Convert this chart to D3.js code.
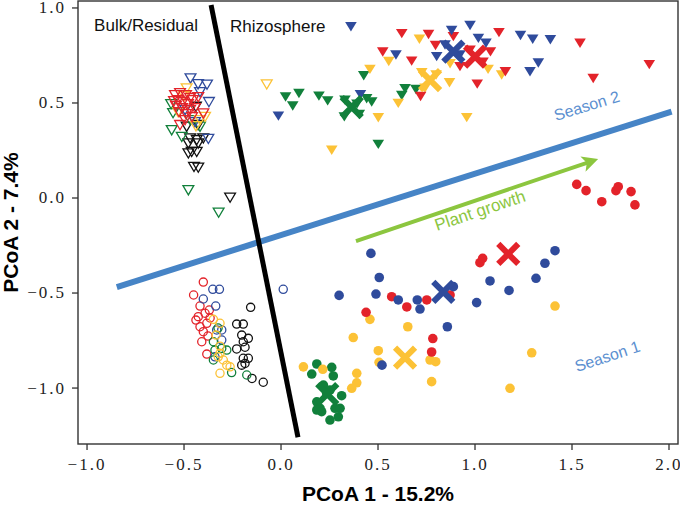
<!DOCTYPE html>
<html>
<head>
<meta charset="utf-8">
<script src="https://cdn.jsdelivr.net/npm/d3@7"></script>
<style>
  body { margin: 0; background: #fff; }
  svg text { font-family: "Liberation Sans", Arial, sans-serif; }
  .axis .tick text { font-family: "Liberation Serif", "DejaVu Serif", serif; font-size: 17px; letter-spacing: 2px; fill: #222; }
</style>
</head>
<body>
<div id="chart"></div>
<script>
// ---- data (PCoA 1, PCoA 2) ----
// Rhizosphere, season 2 (filled triangles)
const rhizoRed = [[0.625,0.863],[0.763,0.858],[0.891,0.847],[0.799,0.800],[0.527,0.766],[0.676,0.718],[1.126,0.868],[1.082,0.767],[0.925,0.689],[1.159,0.662],[1.014,0.597],[0.722,0.532],[1.544,0.812],[1.612,0.627],[1.901,0.700],[0.977,0.776],[1.044,0.713]];
const rhizoBlue = [[0.363,0.899],[0.595,0.750],[0.805,0.742],[0.882,0.879],[0.977,0.906],[1.020,0.838],[1.059,0.812],[1.237,0.853],[1.300,0.833],[1.391,0.831],[1.329,0.708],[1.286,0.662],[0.412,0.542],[-0.011,0.429],[0.848,0.803],[0.925,0.750]];
const rhizoYellow = [[0.716,0.833],[0.558,0.716],[0.461,0.675],[0.607,0.496],[0.504,0.420],[0.264,0.249],[0.871,0.604],[0.874,0.704],[1.070,0.675],[1.140,0.645],[0.960,0.421],[0.728,0.657],[0.745,0.576],[0.802,0.645]];
const rhizoGreen = [[0.429,0.641],[0.026,0.529],[0.095,0.548],[0.063,0.482],[0.198,0.534],[0.243,0.509],[0.444,0.520],[0.470,0.503],[0.329,0.425],[0.406,0.438],[0.625,0.537],[0.642,0.573],[0.698,0.569],[0.504,0.280],[0.332,0.513],[0.394,0.492]];

// Bulk/residual, season 2 (open triangles)
const bulkTriBlue = [[-0.464,0.627],[-0.425,0.597],[-0.379,0.595],[-0.369,0.503],[-0.372,0.309],[-0.492,0.461],[-0.441,0.397],[-0.415,0.555]];
const bulkTriRed = [[-0.544,0.539],[-0.518,0.550],[-0.487,0.539],[-0.466,0.524],[-0.528,0.513],[-0.503,0.503],[-0.477,0.492],[-0.539,0.482],[-0.508,0.471],[-0.466,0.461],[-0.523,0.450],[-0.487,0.439],[-0.451,0.513],[-0.424,0.529],[-0.398,0.443],[-0.518,0.382],[-0.492,0.408],[-0.456,0.424],[-0.549,0.508],[-0.441,0.471]];
const bulkTriYellow = [[-0.484,0.575],[-0.528,0.450],[-0.389,0.425],[-0.436,0.376],[-0.497,0.534],[-0.071,0.596],[-0.415,0.408]];
const bulkTriGreen = [[-0.564,0.492],[-0.554,0.445],[-0.561,0.355],[-0.509,0.320],[-0.415,0.373],[-0.475,0.039],[-0.319,-0.079],[-0.466,0.408]];
const bulkTriBlack = [[-0.436,0.478],[-0.484,0.373],[-0.425,0.382],[-0.466,0.312],[-0.432,0.303],[-0.398,0.312],[-0.475,0.285],[-0.424,0.285],[-0.458,0.241],[-0.432,0.241],[-0.475,0.233],[-0.446,0.162],[-0.424,0.158],[-0.260,0.000]];

// Bulk/residual, season 1 (open circles)
const bulkCircRed = [[-0.398,-0.445],[-0.448,-0.513],[-0.415,-0.571],[-0.424,-0.627],[-0.389,-0.609],[-0.367,-0.592],[-0.415,-0.680],[-0.380,-0.662],[-0.398,-0.706],[-0.406,-0.759],[-0.380,-0.824],[-0.436,-0.645],[-0.363,-0.634],[-0.374,-0.729]];
const bulkCircBlue = [[-0.349,-0.483],[-0.315,-0.483],[0.014,-0.483],[-0.398,-0.534],[-0.334,-0.571],[-0.329,-0.697],[-0.303,-0.697],[-0.303,-0.750],[-0.338,-0.838]];
const bulkCircYellow = [[-0.346,-0.641],[-0.312,-0.662],[-0.312,-0.782],[-0.321,-0.838],[-0.295,-0.855],[-0.312,-0.820],[-0.277,-0.882],[-0.260,-0.891],[-0.312,-0.925],[-0.332,-0.724]];
const bulkCircGreen = [[-0.346,-0.759],[-0.338,-0.803],[-0.303,-0.794],[-0.277,-0.803],[-0.346,-0.855],[-0.252,-0.921],[-0.174,-0.934],[-0.322,-0.687]];
const bulkCircBlack = [[-0.154,-0.578],[-0.226,-0.666],[-0.192,-0.666],[-0.200,-0.724],[-0.166,-0.741],[-0.192,-0.759],[-0.226,-0.797],[-0.183,-0.788],[-0.192,-0.846],[-0.166,-0.846],[-0.183,-0.873],[-0.200,-0.882],[-0.147,-0.952],[-0.089,-0.972]];

// Rhizosphere, season 1 (filled circles)
const s1Red = [[1.527,0.069],[1.575,0.036],[1.656,-0.022],[1.729,0.036],[1.741,0.057],[1.807,0.031],[1.827,-0.039],[0.573,-0.522],[0.651,-0.576],[0.754,-0.539],[0.874,-0.513],[0.441,-0.604],[1.028,-0.343],[1.042,-0.320],[0.785,-0.742],[0.779,-0.813]];
const s1Blue = [[0.466,-0.294],[0.509,-0.421],[0.302,-0.515],[0.492,-0.508],[0.607,-0.539],[0.705,-0.539],[0.719,-0.587],[0.891,-0.469],[0.860,-0.680],[1.080,-0.439],[1.011,-0.553],[1.178,-0.489],[1.317,-0.425],[1.363,-0.346],[1.415,-0.280],[0.523,-0.882]];
const s1Yellow = [[0.461,-0.641],[0.656,-0.680],[0.375,-0.737],[0.504,-0.806],[0.508,-0.867],[0.771,-0.855],[0.800,-0.864],[0.779,-0.969],[1.295,-0.817],[1.183,-1.004],[0.118,-0.891],[0.218,-0.904],[0.393,-0.925],[0.393,-0.975],[0.367,-1.004],[1.415,-0.571]];
const s1Green = [[0.187,-0.876],[0.264,-0.894],[0.272,-0.939],[0.161,-0.929],[0.315,-1.043],[0.187,-1.075],[0.204,-1.109],[0.281,-1.109],[0.307,-1.109],[0.187,-1.118],[0.212,-1.127],[0.298,-1.154],[0.255,-1.171],[0.221,-0.987],[0.255,-1.013],[0.238,-1.031]];

// group centroids
const centroidColors = ["green", "yellow", "blue", "red", "blue", "red", "yellow", "green"];
const centroidX = [0.367, 0.771, 0.891, 1.003, 0.839, 1.174, 0.642, 0.241];
const centroidY = [0.476, 0.618, 0.767, 0.741, -0.496, -0.297, -0.843, -1.034];

// guide lines
const dividerLine = [[-0.358, 1.013], [0.090, -1.261]];
const seasonLine = [[-0.844, -0.471], [2.016, 0.452]];
const growthArrow = [[0.389, -0.229], [1.606, 0.192]];

const xTicks = [-1.0, -0.5, 0.0, 0.5, 1.0, 1.5, 2.0];
const yTicks = [-1.0, -0.5, 0.0, 0.5, 1.0];

const colors = {
  red: "#e3232a",
  blue: "#2f4b9c",
  yellow: "#fcc236",
  green: "#11803b",
  black: "#111111"
};

// build groups table
const groups = [
  { pts: bulkTriBlack, color: "black", shape: "tri", filled: false },
  { pts: bulkTriGreen, color: "green", shape: "tri", filled: false },
  { pts: bulkTriBlue, color: "blue", shape: "tri", filled: false },
  { pts: bulkTriYellow, color: "yellow", shape: "tri", filled: false },
  { pts: bulkTriRed, color: "red", shape: "tri", filled: false },
  { pts: bulkCircBlack, color: "black", shape: "circ", filled: false },
  { pts: bulkCircRed, color: "red", shape: "circ", filled: false },
  { pts: bulkCircBlue, color: "blue", shape: "circ", filled: false },
  { pts: bulkCircGreen, color: "green", shape: "circ", filled: false },
  { pts: bulkCircYellow, color: "yellow", shape: "circ", filled: false },
  { pts: rhizoGreen, color: "green", shape: "tri", filled: true },
  { pts: rhizoYellow, color: "yellow", shape: "tri", filled: true },
  { pts: rhizoRed, color: "red", shape: "tri", filled: true },
  { pts: rhizoBlue, color: "blue", shape: "tri", filled: true },
  { pts: s1Green, color: "green", shape: "circ", filled: true },
  { pts: s1Yellow, color: "yellow", shape: "circ", filled: true },
  { pts: s1Red, color: "red", shape: "circ", filled: true },
  { pts: s1Blue, color: "blue", shape: "circ", filled: true }
];

const W = 680, H = 512;
const plot = { left: 78, right: 678, top: 1, bottom: 444 };

const svg = d3.select("#chart")
  .append("svg")
  .attr("width", W)
  .attr("height", H);

const x = d3.scaleLinear().domain([-1.044, 2.049]).range([plot.left, plot.right]);
const y = d3.scaleLinear().domain([-1.297, 1.034]).range([plot.bottom, plot.top]);

// axes
const fmt = d3.format(".1f");
svg.append("g")
  .attr("class", "axis")
  .attr("transform", `translate(0,${plot.bottom})`)
  .call(d3.axisBottom(x).tickValues(xTicks).tickFormat(fmt).tickSize(6).tickSizeOuter(0).tickPadding(8));
svg.append("g")
  .attr("class", "axis")
  .attr("transform", `translate(${plot.left},0)`)
  .call(d3.axisLeft(y).tickValues(yTicks).tickFormat(fmt).tickSize(6).tickSizeOuter(0).tickPadding(6));
svg.selectAll(".axis .domain").remove();
svg.selectAll(".axis .tick line").attr("stroke", "#333").attr("stroke-width", 1.3);

// frame
svg.append("rect")
  .attr("x", plot.left)
  .attr("y", plot.top)
  .attr("width", plot.right - plot.left)
  .attr("height", plot.bottom - plot.top)
  .attr("fill", "none")
  .attr("stroke", "#333")
  .attr("stroke-width", 1.4);

// axis titles
svg.append("text")
  .attr("x", (plot.left + plot.right) / 2)
  .attr("y", 501)
  .attr("text-anchor", "middle")
  .style("font-size", "21px")
  .style("font-weight", "bold")
  .text("PCoA 1 - 15.2%");

svg.append("text")
  .attr("transform", `translate(18,${(plot.top + plot.bottom) / 2}) rotate(-90)`)
  .attr("text-anchor", "middle")
  .style("font-size", "21px")
  .style("font-weight", "bold")
  .text("PCoA 2 - 7.4%");

// points
const triFilled = "M-5.8,-4.6L5.8,-4.6L0,4.8Z";
const triOpen = "M-5.4,-4.4L5.4,-4.4L0,4.8Z";
const markers = svg.append("g");
groups.forEach((g) => {
  const c = colors[g.color];
  const sel = markers.append("g").selectAll(null).data(g.pts).enter();
  if (g.shape === "tri") {
    sel.append("path")
      .attr("d", g.filled ? triFilled : triOpen)
      .attr("transform", (d) => `translate(${x(d[0])},${y(d[1])})`)
      .attr("fill", g.filled ? c : "none")
      .attr("stroke", c)
      .attr("stroke-width", g.filled ? 0 : 1.3);
  } else {
    sel.append("circle")
      .attr("cx", (d) => x(d[0]))
      .attr("cy", (d) => y(d[1]))
      .attr("r", g.filled ? 4.8 : 4.1)
      .attr("fill", g.filled ? c : "none")
      .attr("stroke", c)
      .attr("stroke-width", g.filled ? 0 : 1.3);
  }
});

// lines
const line = d3.line().x((d) => x(d[0])).y((d) => y(d[1]));

svg.append("path")
  .attr("d", line(seasonLine))
  .attr("stroke", "#4684c6")
  .attr("stroke-width", 6)
  .attr("fill", "none");

svg.append("path")
  .attr("d", line(dividerLine))
  .attr("stroke", "#000")
  .attr("stroke-width", 5)
  .attr("fill", "none");

svg.append("defs").append("marker")
  .attr("id", "arrow")
  .attr("viewBox", "0 0 10 10")
  .attr("refX", 6)
  .attr("refY", 5)
  .attr("markerWidth", 4)
  .attr("markerHeight", 4)
  .attr("orient", "auto")
  .append("path")
  .attr("d", "M0,0L10,5L0,10L2.5,5Z")
  .attr("fill", "#8cc63f");

svg.append("path")
  .attr("d", line(growthArrow))
  .attr("stroke", "#8cc63f")
  .attr("stroke-width", 4)
  .attr("fill", "none")
  .attr("marker-end", "url(#arrow)");

// centroids
const cs = 10;
svg.append("g").selectAll("path")
  .data(centroidX.map((v, i) => ({ x: v, y: centroidY[i], c: centroidColors[i] })))
  .enter()
  .append("path")
  .attr("d", `M${-cs},${-cs}L${cs},${cs}M${-cs},${cs}L${cs},${-cs}`)
  .attr("transform", (d) => `translate(${x(d.x)},${y(d.y)})`)
  .attr("stroke", (d) => colors[d.c])
  .attr("stroke-width", 6)
  .attr("fill", "none");

// annotations
svg.append("text")
  .attr("x", x(-0.961)).attr("y", y(0.876))
  .style("font-size", "17px").attr("fill", "#111")
  .text("Bulk/Residual");

svg.append("text")
  .attr("x", x(-0.260)).attr("y", y(0.871))
  .style("font-size", "17px").attr("fill", "#111")
  .text("Rhizosphere");

svg.append("text")
  .attr("transform", `translate(${x(1.420)},${y(0.403)}) rotate(-17)`)
  .style("font-size", "16px").attr("fill", "#5b8fd0")
  .text("Season 2");

svg.append("text")
  .attr("transform", `translate(${x(1.528)},${y(-0.918)}) rotate(-18)`)
  .style("font-size", "16px").attr("fill", "#5b8fd0")
  .text("Season 1");

svg.append("text")
  .attr("transform", `translate(${x(0.807)},${y(-0.176)}) rotate(-18.5)`)
  .style("font-size", "17px").attr("fill", "#8cc63f")
  .text("Plant growth");
</script>
</body>
</html>
